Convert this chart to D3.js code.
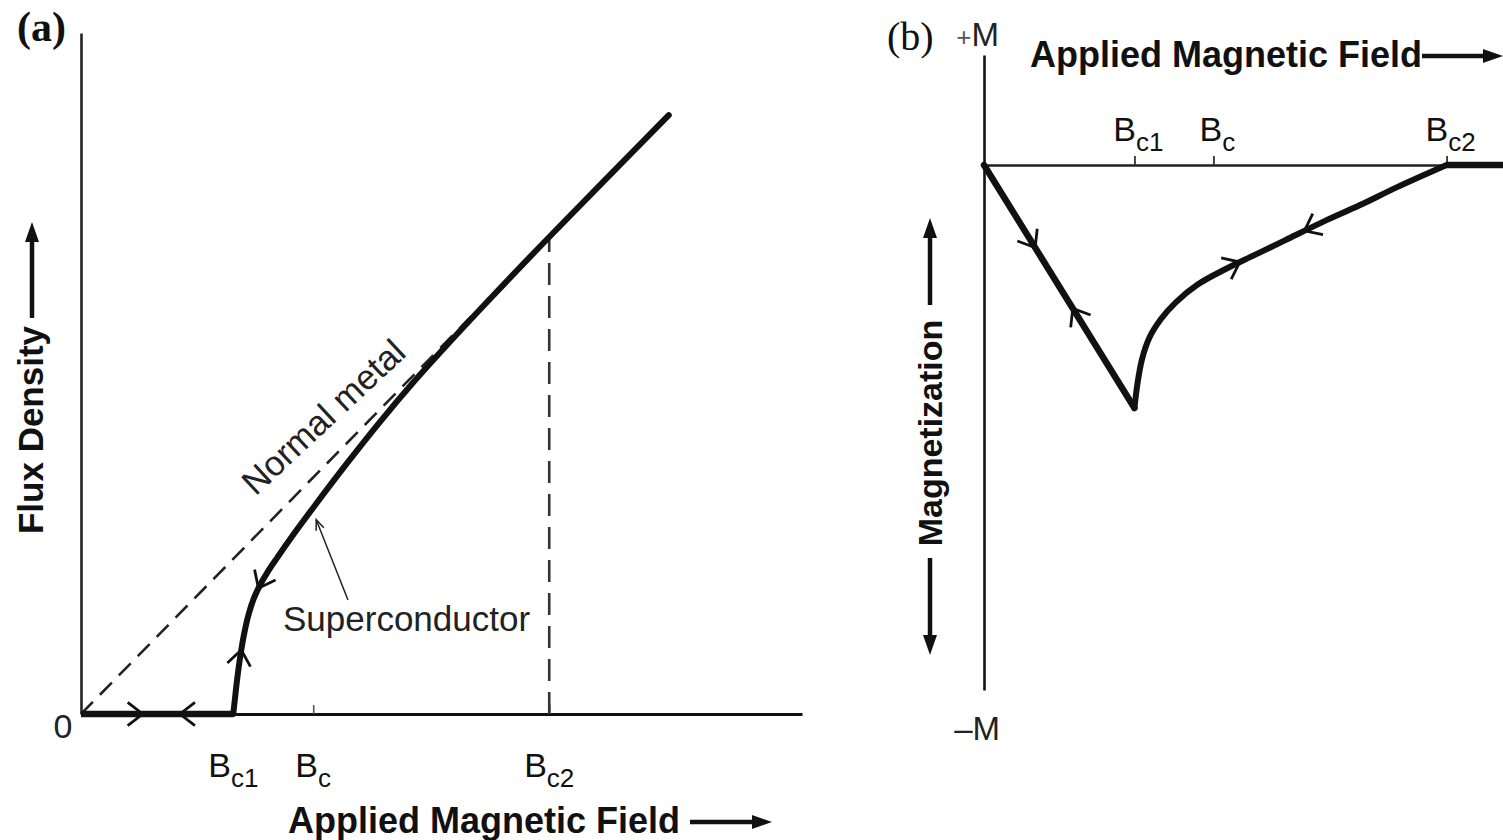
<!DOCTYPE html>
<html>
<head>
<meta charset="utf-8">
<script src="https://cdn.jsdelivr.net/npm/d3@7"></script>
<style>
  html, body { margin: 0; padding: 0; background: #fff; }
  svg { display: block; }
</style>
</head>
<body>
<script>
// Critical fields, in arbitrary field units
const fieldTickValues = [2.0, 3.05, 6.15];      // Bc1, Bc, Bc2
const tickMain = ["B", "B", "B"];
const tickSub = ["c1", "c", "c2"];

// (a) flux density B against applied field H
const normalMetal = [[0, 0], [6.15, 6.15]];      // B = H (dashed)
const meissnerFlux = [[0, 0], [2.0, 0]];        // B = 0 below Bc1
const mixedFlux = [
  [2.00, 0.00], [2.02, 0.18], [2.05, 0.44], [2.09, 0.73], [2.14, 1.02],
  [2.20, 1.28], [2.27, 1.49], [2.35, 1.66], [2.45, 1.83], [2.58, 2.02],
  [2.75, 2.26], [3.05, 2.66], [3.50, 3.24], [3.93, 3.77], [4.36, 4.27],
  [4.81, 4.76], [5.38, 5.36], [6.15, 6.15], [7.72, 7.72]
];

// (b) magnetization M against applied field H
const meissnerMag = [[0, 0], [2.0, -2.0]];
const mixedMag = [
  [2.00, -2.00], [2.04, -1.80], [2.10, -1.60], [2.20, -1.42], [2.35, -1.27],
  [2.55, -1.13], [2.85, -0.98], [3.20, -0.86], [3.60, -0.74], [4.00, -0.62],
  [4.50, -0.47], [5.00, -0.33], [5.50, -0.18], [6.15, 0.00]
];
const normalMag = [[6.15, 0], [6.9, 0]];

// direction arrows: field position and sense along the drawn path
const arrowsA = { meissner: [[0.81, 1], [1.30, -1]], mixed: [[2.105, 1], [2.33, -1]] };
const arrowsB = { meissner: [[0.68, 1], [1.18, -1]], mixed: [[3.40, 1], [4.26, -1]] };

const W = 1503, H = 840;
const SANS = "'Liberation Sans', Arial, Helvetica, sans-serif";
const SERIF = "'Liberation Serif', 'Times New Roman', serif";
const INK = "#111";

const svg = d3.select("body").append("svg")
  .attr("width", W).attr("height", H)
  .style("font-family", SANS);

// ---------- scales ----------
const xa = d3.scaleLinear().domain([0, 9.47]).range([81, 802]);
const ya = d3.scaleLinear().domain([0, 8.78]).range([714, 33]);
const xb = d3.scaleLinear().domain([0, 6.9]).range([984, 1503]);
const yb = d3.scaleLinear().domain([-4.32, 0.905]).range([690, 55]);

// ---------- helpers ----------
function drawPath(g, data, x, y, curve) {
  return g.append("path")
    .datum(data)
    .attr("d", d3.line().x(d => x(d[0])).y(d => y(d[1])).curve(curve || d3.curveLinear))
    .attr("fill", "none");
}

// open chevron placed on a path at the point whose x equals px
function chevron(g, node, px, sense, len = 19, half = 38) {
  const L = node.getTotalLength();
  let lo = 0, hi = L;
  for (let i = 0; i < 40; i++) {
    const m = (lo + hi) / 2;
    if (node.getPointAtLength(m).x < px) lo = m; else hi = m;
  }
  const s = (lo + hi) / 2;
  const p = node.getPointAtLength(s);
  const a = node.getPointAtLength(Math.max(0, s - 1.5));
  const b = node.getPointAtLength(Math.min(L, s + 1.5));
  let ang = Math.atan2(b.y - a.y, b.x - a.x);
  if (sense < 0) ang += Math.PI;
  const r = half * Math.PI / 180;
  const pts = [
    [p.x - len * Math.cos(ang - r), p.y - len * Math.sin(ang - r)],
    [p.x, p.y],
    [p.x - len * Math.cos(ang + r), p.y - len * Math.sin(ang + r)]
  ];
  g.append("polyline")
    .attr("points", pts.map(q => q.join(",")).join(" "))
    .attr("fill", "none").attr("stroke", INK)
    .attr("stroke-width", 2.8).attr("stroke-linejoin", "miter");
}

// filled arrow (shaft + triangular head) from (x1,y1) to tip (x2,y2)
function blockArrow(g, x1, y1, x2, y2, w = 4.5, headL = 20, headW = 7) {
  const ang = Math.atan2(y2 - y1, x2 - x1);
  const bx = x2 - headL * Math.cos(ang), by = y2 - headL * Math.sin(ang);
  g.append("line").attr("x1", x1).attr("y1", y1).attr("x2", bx).attr("y2", by)
    .attr("stroke", INK).attr("stroke-width", w);
  const nx = -Math.sin(ang), ny = Math.cos(ang);
  g.append("path")
    .attr("d", `M${x2},${y2}L${bx + nx * headW},${by + ny * headW}L${bx - nx * headW},${by - ny * headW}Z`)
    .attr("fill", INK);
}

function subLabel(g, x, y, main, sub, size, subSize, subDy) {
  const t = g.append("text").attr("x", x).attr("y", y)
    .attr("text-anchor", "middle").attr("fill", INK)
    .style("font-size", size + "px");
  t.append("tspan").text(main);
  t.append("tspan").attr("dy", subDy).style("font-size", subSize + "px").text(sub);
  return t;
}

// ================= panel (a) =================
const ga = svg.append("g");

ga.append("text").attr("x", 17).attr("y", 41)
  .style("font-family", SERIF).style("font-weight", "bold").style("font-size", "42px")
  .attr("fill", INK).text("(a)");

// axes
ga.append("g").attr("transform", `translate(${xa(0)},0)`)
  .call(d3.axisLeft(ya).tickValues([]).tickSizeOuter(0))
  .call(g => g.select(".domain").attr("stroke", "#222").attr("stroke-width", 2.6));

ga.append("g").attr("transform", `translate(0,${ya(0)})`)
  .call(d3.axisBottom(xa).tickValues(fieldTickValues).tickSizeInner(-9).tickSizeOuter(0).tickFormat(""))
  .call(g => g.select(".domain").attr("stroke", INK).attr("stroke-width", 3.2))
  .call(g => g.selectAll(".tick line").attr("stroke", "#555").attr("stroke-width", 1.6));

ga.append("text").attr("x", xa(0) - 18).attr("y", 738)
  .attr("text-anchor", "middle").style("font-size", "34px").attr("fill", "#222").text("0");

fieldTickValues.forEach((v, i) =>
  subLabel(ga, xa(v), 777, tickMain[i], tickSub[i], 34, 26, 10));

// normal metal line and Bc2 guide
drawPath(ga, normalMetal, xa, ya)
  .attr("stroke", "#222").attr("stroke-width", 2.6).attr("stroke-dasharray", "17 10");
ga.append("line")
  .attr("x1", xa(fieldTickValues[2])).attr("x2", xa(fieldTickValues[2]))
  .attr("y1", ya(0)).attr("y2", ya(fieldTickValues[2]))
  .attr("stroke", "#333").attr("stroke-width", 2.6).attr("stroke-dasharray", "22 11");

// superconductor curve
const pMeissA = drawPath(ga, meissnerFlux, xa, ya)
  .attr("stroke", INK).attr("stroke-width", 6.5).attr("stroke-linecap", "butt");
const pMixedA = drawPath(ga, mixedFlux, xa, ya, d3.curveCatmullRom.alpha(0.5))
  .attr("stroke", INK).attr("stroke-width", 6).attr("stroke-linecap", "round");

arrowsA.meissner.forEach(([h, s]) => chevron(ga, pMeissA.node(), xa(h), s));
arrowsA.mixed.forEach(([h, s]) => chevron(ga, pMixedA.node(), xa(h), s));

// labels
const nmX = xa(3.2) + 7, nmY = ya(3.2) - 40;
ga.append("text")
  .attr("transform", `translate(${nmX},${nmY}) rotate(-43)`)
  .attr("text-anchor", "middle").attr("fill", "#222")
  .style("font-size", "35px").text("Normal metal");

ga.append("text").attr("x", 283).attr("y", 631)
  .attr("fill", "#222").style("font-size", "35px").text("Superconductor");

// leader from the label to the curve
const tipX = xa(3.05) + 3, tipY = ya(2.66) + 12;
ga.append("line").attr("x1", 348).attr("y1", 600).attr("x2", tipX).attr("y2", tipY)
  .attr("stroke", "#222").attr("stroke-width", 1.5);
{
  const ang = Math.atan2(tipY - 600, tipX - 348);
  const r = 22 * Math.PI / 180, l = 11;
  ga.append("polyline")
    .attr("points", [
      [tipX - l * Math.cos(ang - r), tipY - l * Math.sin(ang - r)],
      [tipX, tipY],
      [tipX - l * Math.cos(ang + r), tipY - l * Math.sin(ang + r)]
    ].map(q => q.join(",")).join(" "))
    .attr("fill", "none").attr("stroke", "#222").attr("stroke-width", 1.5);
}

// axis titles
ga.append("text").attr("transform", "translate(43,430) rotate(-90)")
  .attr("text-anchor", "middle").attr("fill", INK)
  .style("font-size", "35px").style("font-weight", "bold").text("Flux Density");
blockArrow(ga, 32, 318, 32, 222);

ga.append("text").attr("x", 288).attr("y", 833)
  .attr("fill", INK).style("font-size", "36px").style("font-weight", "bold")
  .text("Applied Magnetic Field");
blockArrow(ga, 690, 822, 772, 822);

// ================= panel (b) =================
const gb = svg.append("g");

gb.append("text").attr("x", 887).attr("y", 50)
  .style("font-family", SERIF).style("font-size", "40px").attr("fill", INK).text("(b)");
gb.append("text").attr("x", xb(0) + 15).attr("y", 46)
  .attr("text-anchor", "end").style("font-size", "33px").attr("fill", "#222")
  .call(t => {
    t.append("tspan").style("font-size", "26px").attr("fill", "#555").text("+");
    t.append("tspan").text("M");
  });
gb.append("text").attr("x", xb(0) + 16).attr("y", 740)
  .attr("text-anchor", "end").style("font-size", "33px").attr("fill", "#222").text("\u2013M");

gb.append("g").attr("transform", `translate(${xb(0)},0)`)
  .call(d3.axisLeft(yb).tickValues([]).tickSizeOuter(0))
  .call(g => g.select(".domain").attr("stroke", INK).attr("stroke-width", 2.6));

gb.append("g").attr("transform", `translate(0,${yb(0)})`)
  .call(d3.axisTop(xb).tickValues(fieldTickValues).tickSizeInner(9).tickSizeOuter(0).tickFormat(""))
  .call(g => g.select(".domain").attr("stroke", "#222").attr("stroke-width", 2.4))
  .call(g => g.selectAll(".tick line").attr("stroke", "#333").attr("stroke-width", 1.8));

fieldTickValues.forEach((v, i) =>
  subLabel(gb, xb(v) + 4, 141, tickMain[i], tickSub[i], 34, 26, 10));

const pMeissB = drawPath(gb, meissnerMag, xb, yb)
  .attr("stroke", INK).attr("stroke-width", 6.5).attr("stroke-linecap", "round");
const pMixedB = drawPath(gb, mixedMag, xb, yb, d3.curveCatmullRom.alpha(0.5))
  .attr("stroke", INK).attr("stroke-width", 6).attr("stroke-linecap", "round");
drawPath(gb, normalMag, xb, yb).attr("stroke", INK).attr("stroke-width", 6.5);

arrowsB.meissner.forEach(([h, s]) => chevron(gb, pMeissB.node(), xb(h), s));
arrowsB.mixed.forEach(([h, s]) => chevron(gb, pMixedB.node(), xb(h), s));

gb.append("text").attr("x", 1030).attr("y", 67)
  .attr("fill", INK).style("font-size", "36px").style("font-weight", "bold")
  .text("Applied Magnetic Field");
blockArrow(gb, 1422, 56, 1503, 56);

gb.append("text").attr("transform", "translate(942,433) rotate(-90)")
  .attr("text-anchor", "middle").attr("fill", INK)
  .style("font-size", "34px").style("font-weight", "bold").text("Magnetization");
blockArrow(gb, 930, 305, 930, 218);
blockArrow(gb, 930, 558, 930, 655);
</script>
</body>
</html>
